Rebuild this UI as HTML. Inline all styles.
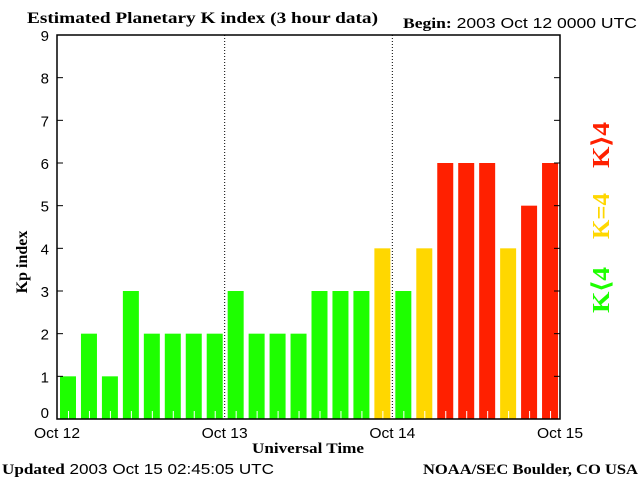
<!DOCTYPE html>
<html><head><meta charset="utf-8"><style>
body{margin:0;background:#fff}
svg text{font-family:"Liberation Sans",sans-serif}
.b{font-family:"Liberation Serif",serif;font-weight:bold}
</style></head><body>
<svg id="c" width="640" height="480">
<text class="b" x="27" y="23" font-size="16" textLength="351" lengthAdjust="spacingAndGlyphs">Estimated Planetary K index (3 hour data)</text>
<text x="403" y="28" font-size="15" textLength="234" lengthAdjust="spacingAndGlyphs"><tspan class="b">Begin:</tspan> 2003 Oct 12 0000 UTC</text>
<text class="b" x="27" y="262" font-size="16" transform="rotate(-90 27 262)" text-anchor="middle">Kp index</text>
<text class="b" x="308" y="453" font-size="15" text-anchor="middle" textLength="112" lengthAdjust="spacingAndGlyphs">Universal Time</text>
<text x="2" y="474" font-size="15" textLength="272" lengthAdjust="spacingAndGlyphs"><tspan class="b">Updated</tspan> 2003 Oct 15 02:45:05 UTC</text>
<text class="b" x="423" y="474" font-size="15" textLength="215" lengthAdjust="spacingAndGlyphs">NOAA/SEC Boulder, CO USA</text>
<text class="b" x="609" y="290" font-size="24" fill="#1eff00" transform="rotate(-90 609 290)" text-anchor="middle" textLength="46" lengthAdjust="spacingAndGlyphs">K⟨4</text>
<text class="b" x="609" y="216" font-size="24" fill="#ffd700" transform="rotate(-90 609 216)" text-anchor="middle" textLength="46" lengthAdjust="spacingAndGlyphs">K=4</text>
<text class="b" x="609" y="145" font-size="24" fill="#ff2000" transform="rotate(-90 609 145)" text-anchor="middle" textLength="46" lengthAdjust="spacingAndGlyphs">K⟩4</text>
<g id="g"></g>
</svg>
<script>
const kp=[1,2,1,3,2,2,2,2,3,2,2,2,3,3,3,4,3,4,6,6,6,4,5,6];
const yTicks=[0,1,2,3,4,5,6,7,8,9];
const dayLabels=["Oct 12","Oct 13","Oct 14","Oct 15"];
const L=57,R=560,T=35,B=419;
const NS="http://www.w3.org/2000/svg";
const g=document.getElementById('g');
const xs=i=>L+i*(R-L)/kp.length;
const ys=v=>B-v*(B-T)/9;
function mk(t,a){const e=document.createElementNS(NS,t);for(const k in a)e.setAttribute(k,a[k]);g.appendChild(e);return e;}
const sw=(R-L)/kp.length;
kp.forEach((v,i)=>{
 const col=v<4?"#1eff00":v==4?"#ffd700":"#ff2000";
 const r=mk('rect',{x:xs(i)+3,y:ys(v),width:16,height:B-ys(v),fill:col});
 
 
 const t=mk('line',{x1:xs(i)+11.5,x2:xs(i)+11.5,y1:B-8,y2:B,stroke:"#fff","stroke-width":1});
 
 
});
for(let d=1;d<3;d++){
 const l=mk('line',{x1:L+d*8*sw,x2:L+d*8*sw,y1:T,y2:B,stroke:"#000","stroke-dasharray":"1,2"});
 
 
}
const fr=mk('rect',{x:L,y:T,width:R-L,height:B-T,fill:"none",stroke:"#000","stroke-width":1.5});


yTicks.forEach(v=>{
 const y=ys(v);
 mk('line',{x1:L,x2:L+6,y1:y,y2:y,stroke:"#000"});
 mk('line',{x1:R-6,x2:R,y1:y,y2:y,stroke:"#000"});
 const t=mk('text',{x:49,y:Math.min(y+6,418),"font-size":15,"text-anchor":"end"});
 t.textContent=v;
 
 
});
dayLabels.forEach((s,d)=>{
 const t=mk('text',{x:L+d*8*sw,y:438,"font-size":15,"text-anchor":"middle",textLength:46,lengthAdjust:"spacingAndGlyphs"});
 t.textContent=s;
 
 
});
</script>
</body></html>
